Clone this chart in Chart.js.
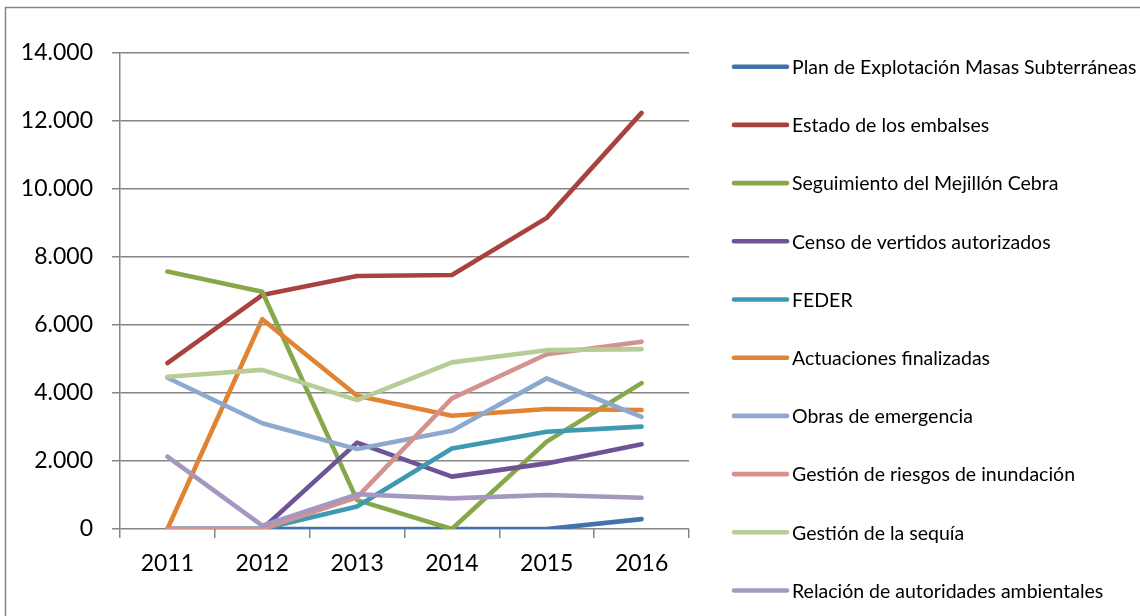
<!DOCTYPE html>
<html><head><meta charset="utf-8">
<script src="https://cdn.jsdelivr.net/npm/chart.js@4/dist/chart.umd.min.js"></script>
<style>html,body{margin:0;padding:0;background:#fff;overflow:hidden}#wrap{width:1140px;height:616px;position:relative}</style>
</head><body><div id="wrap"><canvas id="c" width="1140" height="616"></canvas></div>
<script>
const categories = ['2011','2012','2013','2014','2015','2016'];
const seriesNames = ['Plan de Explotación Masas Subterráneas','Estado de los embalses','Seguimiento del Mejillón Cebra','Censo de vertidos autorizados','FEDER','Actuaciones finalizadas','Obras de emergencia','Gestión de riesgos de inundación','Gestión de la sequía','Relación de autoridades ambientales'];
const planExplotacion = [0, 0, 0, 0, 0, 290];
const estadoEmbalses = [4880, 6880, 7440, 7470, 9150, 12240];
const mejillonCebra = [7570, 6980, 850, 0, 2570, 4290];
const censoVertidos = [0, 0, 2540, 1540, 1930, 2490];
const feder = [0, 0, 660, 2370, 2860, 3010];
const actuaciones = [0, 6170, 3920, 3330, 3530, 3500];
const obrasEmergencia = [4450, 3110, 2350, 2890, 4430, 3300];
const riesgosInundacion = [0, 0, 930, 3840, 5140, 5510];
const gestionSequia = [4480, 4680, 3790, 4900, 5260, 5290];
const autoridadesAmb = [2130, 100, 1020, 900, 1000, 920];
const yTicks = [0, 2000, 4000, 6000, 8000, 10000, 12000, 14000];

const seriesValues = [planExplotacion, estadoEmbalses, mejillonCebra, censoVertidos, feder, actuaciones, obrasEmergencia, riesgosInundacion, gestionSequia, autoridadesAmb];
const colors = ['#4372AA','#A8423F','#86A84A','#6E5494','#3D9AB2','#E08433','#8DA9D0','#D39290','#B6CE95','#A597BF'];

function fmt(v){ return String(v).replace(/\B(?=(\d{3})+(?!\d))/g, '.'); }

const datasets = seriesValues.map((d,i)=>({
  label: seriesNames[i], data: d, borderColor: colors[i], backgroundColor: colors[i],
  borderWidth: 4.6, pointRadius: 0, tension: 0, borderCapStyle: 'round', borderJoinStyle: 'round',
  order: seriesValues.length - i, fill: false
}));

const frameAndLegend = {
  id: 'frameAndLegend',
  afterDraw(chart){
    const ctx = chart.ctx;
    ctx.save();
    ctx.strokeStyle = '#868686'; ctx.lineWidth = 1.5;
    ctx.strokeRect(5.5, 7.5, 1300, 800);
    ctx.font = '19.5px Lato';
    ctx.textBaseline = 'middle'; ctx.textAlign = 'left';
    chart.data.datasets.forEach((ds,i)=>{
      const y = 66.7 + i*58.2;
      ctx.strokeStyle = ds.borderColor; ctx.lineWidth = 4.6; ctx.lineCap = 'round';
      ctx.beginPath(); ctx.moveTo(734, y); ctx.lineTo(787, y); ctx.stroke();
      ctx.fillStyle = '#000';
      ctx.fillText(ds.label, 792, y+1);
    });
    ctx.restore();
  }
};

function start(){
new Chart(document.getElementById('c'), {
  type: 'line',
  data: { labels: categories, datasets },
  options: {
    responsive: false, animation: false, devicePixelRatio: 1,
    layout: { padding: { left: 0, top: 53, right: 451, bottom: 0 } },
    plugins: { legend: { display: false }, tooltip: { enabled: false } },
    scales: {
      x: {
        offset: true,
        grid: { display: true, drawOnChartArea: false, offset: true, tickLength: 9, color: '#868686', lineWidth: 1.5 },
        border: { display: false },
        ticks: { font: { family: 'Lato', size: 23 }, color: '#000', padding: 12, maxRotation: 0 },
        afterFit(s){ s.height = 87; }
      },
      y: {
        min: 0, max: 14000,
        afterBuildTicks(s){ s.ticks = yTicks.map(v=>({value:v})); },
        grid: { color: '#868686', lineWidth: 1.5, tickLength: 8 },
        border: { display: true, color: '#868686', width: 1.5 },
        ticks: { font: { family: 'Lato', size: 23 }, color: '#000', padding: 19, callback: v => fmt(v) },
        afterFit(s){ s.width = 120; }
      }
    }
  },
  plugins: [frameAndLegend]
});
}
Promise.all([document.fonts.load('23px Lato'), document.fonts.load('19.5px Lato')]).then(start, start);
</script></body></html>
